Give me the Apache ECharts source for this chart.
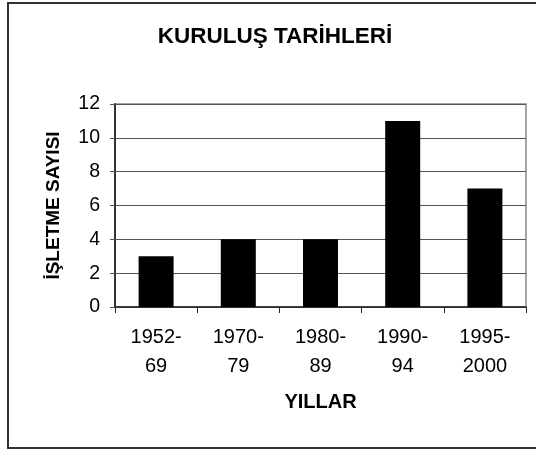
<!DOCTYPE html>
<html>
<head>
<meta charset="utf-8">
<script src="https://cdn.jsdelivr.net/npm/echarts@6/dist/echarts.min.js"></script>
<style>
  html, body { margin: 0; padding: 0; background: #fff; }
  #chart { width: 536px; height: 449px; }
</style>
</head>
<body>
<div id="chart"></div>
<script>
// kuruluş yılları ve işletme sayıları
var categories = ['1952-\n69', '1970-\n79', '1980-\n89', '1990-\n94', '1995-\n2000'];
var counts = [3, 4, 4, 11, 7];
var yTicks = { min: 0, max: 12, step: 2 };

var font = 'Arial, "Liberation Sans", sans-serif';
var chart = echarts.init(document.getElementById('chart'));

chart.setOption({
  backgroundColor: '#fff',
  animation: false,
  graphic: [{
    type: 'rect',
    shape: { x: 8, y: 3, width: 540, height: 445 },
    style: { fill: 'none', stroke: '#333', lineWidth: 2 }
  }],
  title: {
    text: 'KURULUŞ TARİHLERİ',
    left: 270, top: 20, textAlign: 'center',
    textStyle: { fontFamily: font, fontSize: 22.5, fontWeight: 'bold', color: '#000' }
  },
  grid: {
    left: 115, right: 10, top: 104, bottom: 142,
    show: true, borderColor: '#888', borderWidth: 1.5, backgroundColor: 'transparent'
  },
  xAxis: {
    type: 'category',
    data: categories,
    name: 'YILLAR',
    nameLocation: 'middle',
    nameGap: 85,
    nameTextStyle: { fontFamily: font, fontSize: 20, fontWeight: 'bold', color: '#000' },
    axisLine: { lineStyle: { color: '#222', width: 1.5 } },
    axisTick: { show: true, length: 6, alignWithLabel: false, lineStyle: { color: '#222' } },
    axisLabel: {
      fontFamily: font, fontSize: 20, color: '#000',
      lineHeight: 29, margin: 16, interval: 0
    }
  },
  yAxis: {
    type: 'value',
    min: yTicks.min, max: yTicks.max, interval: yTicks.step,
    name: 'İŞLETME SAYISI',
    nameLocation: 'middle',
    nameGap: 52,
    nameRotate: 90,
    nameTextStyle: { fontFamily: font, fontSize: 19, fontWeight: 'bold', color: '#000' },
    axisLine: { show: true, lineStyle: { color: '#333', width: 2 } },
    axisTick: { show: true, length: 5, lineStyle: { color: '#555' } },
    axisLabel: { fontFamily: font, fontSize: 19.5, color: '#000', margin: 15 },
    splitLine: { show: true, lineStyle: { color: '#555', width: 1 } }
  },
  series: [{
    type: 'bar',
    data: counts,
    barWidth: 35,
    itemStyle: { color: '#000' }
  }]
});
</script>
</body>
</html>
